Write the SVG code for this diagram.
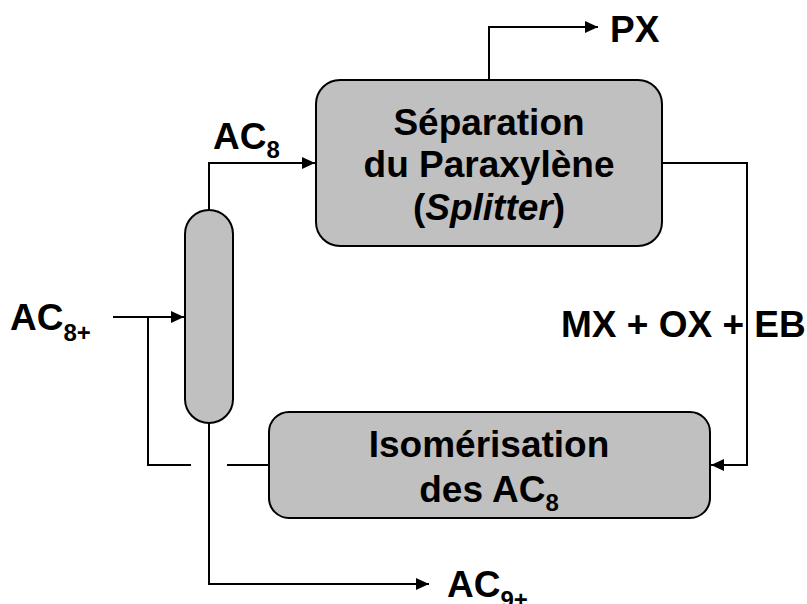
<svg xmlns="http://www.w3.org/2000/svg" width="807" height="604" viewBox="0 0 807 604">
<style>
.box{fill:#c0c0c0;stroke:#000;stroke-width:2}
.ln{fill:none;stroke:#000;stroke-width:2}
.t{font-family:"Liberation Sans",Arial,sans-serif;font-weight:bold;font-size:37px;fill:#000}
.c{text-anchor:middle}
.s{font-size:24px}
</style>
<defs>
<marker id="arr" markerUnits="userSpaceOnUse" markerWidth="14" markerHeight="12" refX="13" refY="6" orient="auto">
<path d="M0,0 L13,6 L0,12 Z" fill="#000"/>
</marker>
</defs>
<rect width="807" height="604" fill="#fff"/>
<g id="connectors">
<path class="ln" d="M209,210 V163 H315" marker-end="url(#arr)"/>
<path class="ln" d="M489,80 V27 H598" marker-end="url(#arr)"/>
<path class="ln" d="M662,163 H747 V465 H711" marker-end="url(#arr)"/>
<path class="ln" d="M113,317 H184" marker-end="url(#arr)"/>
<path class="ln" d="M191,465 H148 V317"/>
<path class="ln" d="M269,465 H227"/>
<path class="ln" d="M209,423 V584 H429" marker-end="url(#arr)"/>
</g>
<g id="column">
<rect class="box" x="185" y="210" width="48" height="213" rx="24" ry="24"/>
</g>
<g id="separation">
<rect class="box" x="316" y="80" width="346" height="166" rx="24" ry="24"/>
<text class="t c" x="489" y="135">Séparation</text>
<text class="t c" x="489" y="177">du Paraxylène</text>
<text class="t c" x="489" y="220">(<tspan font-style="italic">Splitter</tspan>)</text>
</g>
<g id="isomerisation">
<rect class="box" x="269" y="412" width="441" height="106" rx="20" ry="20"/>
<text class="t c" x="489" y="457">Isomérisation</text>
<text class="t c" x="489" y="502">des AC<tspan class="s" dy="9">8</tspan></text>
</g>
<g id="labels">
<text class="t" x="610" y="42">PX</text>
<text class="t" x="213" y="149">AC<tspan class="s" dy="9">8</tspan></text>
<text class="t" x="10" y="330">AC<tspan class="s" dy="11">8+</tspan></text>
<text class="t" x="561" y="337">MX + OX + EB</text>
<text class="t" x="447" y="597">AC<tspan class="s" dy="11">9+</tspan></text>
</g>
</svg>
